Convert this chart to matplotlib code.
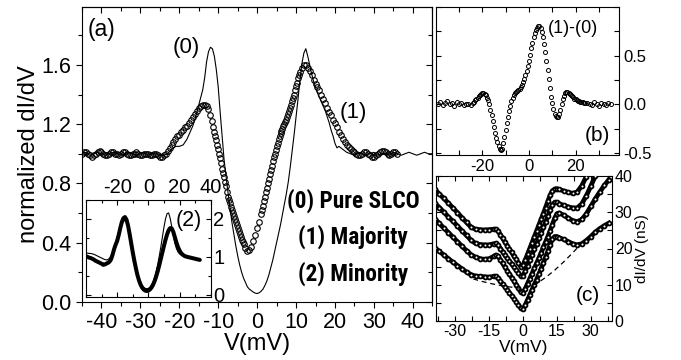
import numpy as np
import matplotlib
matplotlib.use('Agg')
import matplotlib.pyplot as plt
from matplotlib import font_manager
from matplotlib.ticker import MultipleLocator, FixedLocator

plt.rcParams['font.family'] = ['Liberation Sans', 'DejaVu Sans']
plt.rcParams['axes.unicode_minus'] = False

# ---- panel (a): curve (0) pure SLCO, thin line
v0 = np.concatenate([np.arange(-45, -22.5, 1), np.arange(-22, -17.5, 1),
                     np.arange(-17.5, 21.75, 0.5), np.arange(22, 45.5, 1)])
g0 = [1.00, 1.01, 0.99, 1.00, 1.01, 1.00, 0.99, 1.00, 1.01, 1.00,
      0.99, 1.00, 1.01, 1.00, 0.99, 1.00, 1.01, 0.99, 1.00, 1.00,
      0.99, 0.99, 1.00,
      1.03, 1.05, 1.05, 1.06, 1.10,
      1.13, 1.16, 1.19, 1.23, 1.28, 1.33, 1.38, 1.43, 1.51, 1.62,
      1.69, 1.72, 1.71, 1.66, 1.57, 1.45, 1.28, 1.12, 0.96, 0.85,
      0.74, 0.64, 0.54, 0.46, 0.38, 0.31, 0.25, 0.20, 0.16, 0.13,
      0.10, 0.085, 0.075, 0.065, 0.058, 0.055, 0.06, 0.07, 0.085, 0.11,
      0.14, 0.18, 0.23, 0.28, 0.34, 0.40, 0.46, 0.52, 0.59, 0.66,
      0.73, 0.81, 0.91, 1.02, 1.13, 1.25, 1.37, 1.50, 1.61, 1.68,
      1.71, 1.66, 1.60, 1.54, 1.49, 1.45, 1.41, 1.38, 1.35, 1.32,
      1.29, 1.25, 1.21, 1.16, 1.12, 1.07, 1.04, 1.05, 1.04,
      1.03, 1.01, 1.00, 0.99, 1.01, 1.00, 0.99, 1.00, 1.01, 0.99,
      1.00, 1.00, 0.99, 1.01, 1.00, 0.99, 1.00, 1.01, 1.00, 0.99,
      1.00, 1.01, 1.00, 1.00]

# ---- panel (a): curve (1) majority, open circles
v1 = np.concatenate([np.arange(-45, -23.75, 0.5), np.arange(-23.5, -11.25, 0.5),
                     np.arange(-11.25, -3.4, 0.25), np.arange(-3, 1.1, 0.5),
                     np.arange(1.25, 11.1, 0.25), np.arange(11.5, 36.1, 0.5)])
g1 = [1.00, 1.01, 1.01, 1.00, 0.99, 0.98, 0.99, 1.00, 1.01, 1.02,
      1.01, 1.00, 0.99, 0.99, 1.00, 1.01, 1.01, 1.00, 1.00, 0.99,
      1.00, 1.01, 1.01, 1.00, 0.99, 0.99, 1.00, 1.00, 1.01, 1.00,
      0.99, 0.99, 1.00, 1.00, 1.00, 0.99, 0.99, 1.00, 1.00, 0.99,
      0.98, 0.98, 0.99,
      1.00, 1.02, 1.04, 1.06, 1.08, 1.10, 1.12, 1.13, 1.15, 1.16,
      1.18, 1.19, 1.21, 1.23, 1.25, 1.27, 1.29, 1.31, 1.32, 1.33,
      1.33, 1.32, 1.30, 1.26, 1.22,
      1.18, 1.15, 1.12, 1.09, 1.06, 1.03, 1.00, 0.97, 0.94, 0.90,
      0.87, 0.84, 0.81, 0.78, 0.74, 0.71, 0.69, 0.67, 0.64, 0.62,
      0.60, 0.58, 0.56, 0.54, 0.52, 0.50, 0.48, 0.46, 0.44, 0.42,
      0.405, 0.39,
      0.36, 0.345, 0.35, 0.37, 0.41, 0.45, 0.50, 0.54, 0.59,
      0.62, 0.65, 0.68, 0.71, 0.74, 0.77, 0.80, 0.83, 0.86, 0.89,
      0.92, 0.95, 0.975, 1.00, 1.025, 1.05, 1.075, 1.10, 1.12, 1.14,
      1.155, 1.17, 1.185, 1.20, 1.215, 1.23, 1.25, 1.27, 1.29, 1.31,
      1.33, 1.355, 1.38, 1.40, 1.43, 1.455, 1.48, 1.51, 1.535, 1.555,
      1.58, 1.60, 1.60, 1.58, 1.56, 1.53, 1.50, 1.47, 1.45, 1.43,
      1.40, 1.37, 1.34, 1.31, 1.28, 1.26, 1.23, 1.21, 1.18, 1.15,
      1.13, 1.10, 1.08, 1.06, 1.045, 1.03, 1.02, 1.01, 1.00, 0.99,
      0.99, 1.00, 1.01, 1.01, 1.00, 0.99, 0.98, 0.98, 0.99, 1.00,
      1.01, 1.02, 1.02, 1.01, 1.00, 0.99, 1.00, 1.01, 1.01, 1.00]

# ---- inset of (a): curve (2) minority (thick) and pure SLCO (thin)
v2 = np.arange(-40, 33.5, 1)
g2 = [1.02, 1.00, 0.98, 0.97, 0.95, 0.93, 0.90, 0.88, 0.86, 0.84,
      0.82, 0.79, 0.80, 0.82, 0.84, 0.87, 0.93, 1.05, 1.20, 1.32,
      1.42, 1.58, 1.76, 1.92, 2.02, 2.05, 1.98, 1.82, 1.60, 1.36,
      1.12, 0.90, 0.70, 0.52, 0.38, 0.27, 0.19, 0.14, 0.11, 0.10,
      0.11, 0.14, 0.19, 0.26, 0.36, 0.48, 0.62, 0.78, 0.95, 1.12,
      1.29, 1.45, 1.59, 1.70, 1.76, 1.75, 1.66, 1.52, 1.38, 1.26,
      1.17, 1.10, 1.06, 1.03, 1.01, 1.00, 0.99, 0.98, 0.97, 0.96,
      0.95, 0.94, 0.93, 0.92]
v2p = np.arange(-40, 31.5, 1)
g2p = [1.10, 1.10, 1.09, 1.09, 1.08, 1.07, 1.05, 1.03, 1.01, 0.99,
       0.97, 0.95, 0.93, 0.92, 0.93, 0.96, 1.02, 1.12, 1.25, 1.40,
       1.52, 1.66, 1.78, 1.86, 1.93, 1.97, 1.95, 1.82, 1.60, 1.36,
       1.12, 0.90, 0.72, 0.56, 0.43, 0.33, 0.25, 0.20, 0.17, 0.16,
       0.17, 0.20, 0.26, 0.34, 0.46, 0.62, 0.80, 1.02, 1.26, 1.52,
       1.78, 2.00, 2.14, 2.16, 2.02, 1.80, 1.56, 1.36, 1.22, 1.13,
       1.08, 1.05, 1.03, 1.02, 1.01, 1.00, 0.99, 0.98, 0.97, 0.96,
       0.95, 0.94]

# ---- panel (b): difference (1)-(0)
vb = np.concatenate([np.arange(-39, -24.5, 1), np.arange(-24, 24.25, 0.5),
                     np.arange(25, 35.5, 1)])
gb = [0.00, 0.02, -0.01, 0.01, 0.03, 0.00, 0.01, -0.02, 0.02, 0.00,
      0.01, -0.01, 0.00, 0.00, -0.01,
      0.01, 0.02, 0.04, 0.055, 0.07, 0.085, 0.10, 0.11, 0.115, 0.115,
      0.11, 0.095, 0.07, 0.04, 0.00, -0.055, -0.11, -0.17, -0.235, -0.29,
      -0.345, -0.39, -0.43, -0.46, -0.47, -0.455, -0.40, -0.335, -0.265, -0.195,
      -0.13, -0.07, -0.015, 0.03, 0.065, 0.095, 0.115, 0.13, 0.14, 0.145,
      0.16, 0.18, 0.20, 0.225, 0.26, 0.30, 0.345, 0.39, 0.445, 0.51,
      0.575, 0.635, 0.69, 0.735, 0.765, 0.785, 0.80, 0.80, 0.785, 0.745,
      0.69, 0.62, 0.54, 0.45, 0.35, 0.26, 0.17, 0.08, 0.01, -0.05,
      -0.095, -0.12, -0.13, -0.125, -0.10, -0.06, 0.00, 0.05, 0.09, 0.115,
      0.13, 0.13, 0.12, 0.11, 0.10, 0.09, 0.075, 0.06, 0.05, 0.04,
      0.035, 0.03, 0.025, 0.02, 0.02, 0.015, 0.01,
      0.01, 0.00, -0.01, 0.02, 0.00, -0.02, 0.01, 0.00, -0.01, 0.01, 0.00]

# ---- panel (c): raw conductance, four spectra + background
vc = np.concatenate([np.arange(-39, -12, 2), np.arange(-12, 17, 1), np.arange(18, 39, 2)])
gc_a = [36.3, 35.0, 33.8, 32.5, 31.2, 29.9, 28.5, 27.2, 25.9, 25.3, 25.2, 25.1, 25.2, 25.3,
        25.3, 24.8, 23.8, 22.8, 21.8, 20.8, 19.8, 18.9, 17.9, 17.0,
        16.0, 15.0, 15.4, 16.8, 18.4, 20.0, 21.6, 23.2, 24.8, 26.4,
        28.0, 29.6, 31.3, 33.0, 34.7, 35.9, 36.4, 36.5, 36.3,
        35.9, 35.5, 35.2, 35.6, 37.3, 39.8, 42.0, 44.0, 46.0, 48.0, 50.0]
gc_b = [32.5, 31.3, 30.0, 28.7, 27.5, 26.2, 24.9, 23.6, 22.3, 21.4, 21.1, 21.0, 21.0, 21.3,
        21.4, 20.9, 20.0, 19.1, 18.2, 17.3, 16.5, 15.7, 14.9, 14.1,
        13.3, 12.4, 12.4, 13.8, 15.3, 16.8, 18.3, 19.8, 21.3, 22.8,
        24.3, 25.8, 27.3, 28.9, 30.6, 32.1, 32.7, 32.7, 32.4,
        31.9, 31.5, 31.2, 31.2, 32.3, 34.5, 37.2, 40.0, 42.5, 45.0, 47.0]
gc_c = [28.2, 26.9, 25.6, 24.4, 23.1, 21.9, 20.6, 19.4, 18.3, 17.6, 17.2, 17.0, 17.2, 17.8,
        18.2, 17.8, 16.9, 15.9, 14.9, 13.9, 12.9, 12.0, 11.0, 10.0,
        9.0, 8.0, 7.8, 8.9, 10.3, 11.7, 13.1, 14.5, 15.9, 17.3,
        18.8, 20.3, 21.8, 23.3, 24.9, 26.6, 28.3, 29.6, 29.8,
        29.2, 28.4, 27.7, 27.4, 28.0, 29.5, 31.6, 33.7, 35.6, 37.4, 39.0]
gc_d = [20.2, 19.2, 18.2, 17.2, 16.2, 15.3, 14.4, 13.5, 12.8, 12.4, 12.3, 12.2, 12.1, 12.3,
        12.3, 11.8, 11.0, 10.2, 9.4, 8.6, 7.8, 7.0, 6.2, 5.3,
        4.4, 3.5, 3.2, 4.4, 5.8, 7.2, 8.6, 10.0, 11.4, 12.9,
        14.4, 16.0, 17.6, 19.2, 21.0, 22.6, 23.3, 23.3, 23.0,
        22.5, 21.9, 21.3, 21.0, 21.3, 22.2, 23.3, 24.5, 25.5, 26.3, 27.0]
v_bg = [-22, -18, -14, -10, -6, -2, 2, 6, 10, 14, 18, 22, 25]
g_bg = [11.6, 10.9, 10.3, 9.8, 9.4, 9.1, 9.3, 10.3, 12.0, 14.0, 16.3, 18.8, 20.8]

legend_lines = ['(0) Pure SLCO', '(1) Majority', '(2) Minority']


def narrow_bold_font():
    # the original uses a narrow bold face; take the narrowest one available
    names = {}
    for f in font_manager.fontManager.ttflist:
        names.setdefault(f.name, []).append(f)
    if 'Liberation Sans Narrow' in names:
        return dict(family='Liberation Sans Narrow', fontsize=17.5, stretch='normal')
    for fam in ['Roboto Condensed', 'Open Sans Condensed', 'Noto Sans', 'DejaVu Sans', 'Roboto']:
        for f in names.get(fam, []):
            if f.stretch in ('condensed', 'semi-condensed', 'extra-condensed') and f.weight in ('bold', 700):
                return dict(family=fam, fontsize=16.8, stretch=f.stretch)
    return dict(family='Liberation Sans', fontsize=14.5, stretch='normal')


W, H = 681, 360
fig = plt.figure(figsize=(W / 100, H / 100), dpi=100)


def box(x0, x1, y0, y1):
    return [x0 / W, 1 - y1 / H, (x1 - x0) / W, (y1 - y0) / H]


def frame(a, lw=0.8):
    for s in a.spines.values():
        s.set_linewidth(lw)


# ---------------- panel (a)
ax = fig.add_axes(box(82, 432.3, 7.3, 301.7))
frame(ax)
ax.plot(v0, g0, color='black', lw=0.8, zorder=2)
ax.plot(v1, g1, 'o', ms=4.0, mfc='none', mec='black', mew=0.8, zorder=3)
ax.set_xlim(-45, 45)
ax.set_ylim(0, 1.99)
ax.xaxis.set_major_locator(MultipleLocator(10))
ax.xaxis.set_minor_locator(MultipleLocator(5))
ax.yaxis.set_major_locator(FixedLocator([0, 0.4, 0.8, 1.2, 1.6]))
ax.yaxis.set_minor_locator(MultipleLocator(0.2))
ax.tick_params(which='both', direction='out', labelsize=15.5, width=0.8)
ax.tick_params(which='major', length=4)
ax.tick_params(which='minor', length=3)
ax.set_yticklabels(['0.0', '0.4', '0.8', '1.2', '1.6'])
ax.set_xlabel('V(mV)', fontsize=17, labelpad=0)
ax.set_ylabel('normalized dI/dV', fontsize=17, labelpad=1)
top = ax.secondary_xaxis('top')
top.xaxis.set_major_locator(MultipleLocator(10))
top.xaxis.set_minor_locator(MultipleLocator(5))
top.tick_params(which='both', direction='in', labeltop=False, width=0.8)
top.tick_params(which='major', length=4)
top.tick_params(which='minor', length=3)
right = ax.secondary_yaxis('right')
right.yaxis.set_major_locator(MultipleLocator(0.4))
right.yaxis.set_minor_locator(MultipleLocator(0.2))
right.tick_params(which='both', direction='in', labelright=False, width=0.8)
right.tick_params(which='major', length=4)
right.tick_params(which='minor', length=3)

ax.text(0.017, 0.925, '(a)', transform=ax.transAxes, fontsize=16.5, ha='left', va='center')
ax.text(0.297, 0.862, '(0)', transform=ax.transAxes, fontsize=16, ha='center', va='center')
ax.text(0.774, 0.641, '(1)', transform=ax.transAxes, fontsize=16, ha='center', va='center')
nb = narrow_bold_font()
for txt, yy in zip(legend_lines, [0.342, 0.220, 0.094]):
    ax.text(0.774, yy, txt, transform=ax.transAxes, fontsize=nb['fontsize'], fontweight='bold',
            family=nb['family'], fontstretch=nb['stretch'], ha='center', va='center')

# ---------------- inset of (a)
axi = fig.add_axes(box(86, 210.7, 200, 296.7))
frame(axi)
axi.plot(v2p, g2p, color='black', lw=0.8)
axi.plot(v2, g2, color='black', lw=2.9, solid_capstyle='round')
axi.set_xlim(-40, 40)
axi.set_ylim(-0.05, 2.5)
axi.xaxis.set_major_locator(FixedLocator([-20, 0, 20, 40]))
axi.xaxis.set_minor_locator(MultipleLocator(10))
axi.yaxis.set_major_locator(FixedLocator([0, 1, 2]))
axi.yaxis.set_minor_locator(MultipleLocator(0.5))
axi.tick_params(which='both', direction='in', top=True, right=True, bottom=True, left=True,
                labeltop=True, labelbottom=False, labelright=True, labelleft=False,
                labelsize=14.5, width=0.8, pad=2)
axi.tick_params(which='major', length=3.5)
axi.tick_params(which='minor', length=2.5)
axi.text(0.82, 0.79, '(2)', transform=axi.transAxes, fontsize=15.5, ha='center', va='center')

# ---------------- panel (b)
axb = fig.add_axes(box(436, 619, 7, 155))
frame(axb)
axb.plot(vb, gb, 'o', ms=2.9, mfc='none', mec='black', mew=0.7)
axb.set_xlim(-39.8, 38.6)
axb.set_ylim(-0.52, 1.0)
axb.xaxis.set_major_locator(MultipleLocator(20))
axb.xaxis.set_minor_locator(MultipleLocator(10))
axb.yaxis.set_major_locator(FixedLocator([-0.5, 0.0, 0.5]))
axb.yaxis.set_minor_locator(MultipleLocator(0.25))
axb.tick_params(which='both', direction='in', top=True, right=True, left=True, bottom=True,
                labelleft=False, labelright=True, labelsize=12, width=0.8, pad=3)
axb.tick_params(which='major', length=3.5)
axb.tick_params(which='minor', length=3.5)
axb.set_yticklabels(['-0.5', '0.0', '0.5'])
axb.text(0.75, 0.856, '(1)-(0)', transform=axb.transAxes, fontsize=13, ha='center', va='center')
axb.text(0.883, 0.135, '(b)', transform=axb.transAxes, fontsize=15, ha='center', va='center')

# ---------------- panel (c)
axc = fig.add_axes(box(436, 612, 176, 321))
frame(axc)
for g in [gc_a, gc_b, gc_c, gc_d]:
    axc.plot(vc, g, '-', color='black', lw=3.4, zorder=2)
    axc.plot(vc, g, 'o', ms=2.8, mfc='white', mec='black', mew=1.3, zorder=3)
axc.plot(v_bg, g_bg, '--', color='black', lw=0.9, dashes=(4, 3), zorder=4)
axc.set_xlim(-38.5, 39.4)
axc.set_ylim(0, 40)
axc.xaxis.set_major_locator(MultipleLocator(15))
axc.xaxis.set_minor_locator(MultipleLocator(7.5))
axc.yaxis.set_major_locator(MultipleLocator(10))
axc.yaxis.set_minor_locator(MultipleLocator(5))
axc.tick_params(which='both', direction='in', top=True, right=True, left=True, bottom=True,
                labelleft=False, labelright=True, labelsize=11.5, width=0.8, pad=2)
axc.tick_params(which='major', length=3.5)
axc.tick_params(which='minor', length=3.5)
axc.yaxis.set_label_position('right')
axc.set_ylabel('dI/dV (nS)', fontsize=11, labelpad=2)
axc.set_xlabel('V(mV)', fontsize=12.5, labelpad=1)
axc.text(0.865, 0.179, '(c)', transform=axc.transAxes, fontsize=15, ha='center', va='center')

fig.savefig('out.png', dpi=100)
